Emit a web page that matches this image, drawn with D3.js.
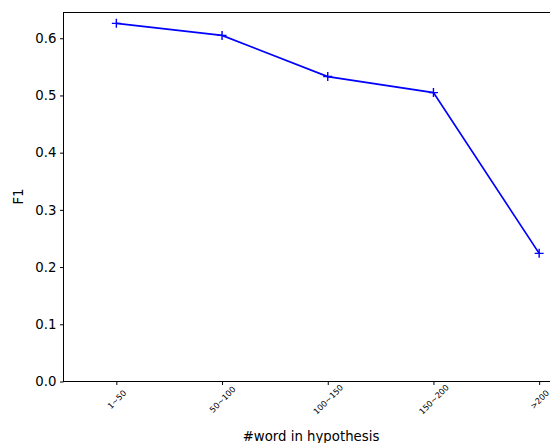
<!DOCTYPE html>
<html>
<head>
<meta charset="utf-8">
<script src="https://cdn.jsdelivr.net/npm/d3@7"></script>
<style>
  html, body { margin: 0; padding: 0; background: #fff; }
  svg { display: block; font-family: "DejaVu Sans", sans-serif; }
</style>
</head>
<body>
<svg id="chart" width="550" height="443"></svg>
<script>
// F1 score by hypothesis length bucket
const categories = ["1~50", "50~100", "100~150", "150~200", ">200"];
const f1Values = [0.626, 0.605, 0.533, 0.505, 0.224];
const yTicks = [0.0, 0.1, 0.2, 0.3, 0.4, 0.5, 0.6];

const svg = d3.select("#chart");
const margin = { left: 63.5, top: 12.5, bottom: 381.5 };
const plotRight = 592;

const x = d3.scaleLinear().domain([-0.5, 4.5]).range([margin.left, plotRight]);
const y = d3.scaleLinear().domain([0, 0.645]).range([margin.bottom, margin.top]);

// axes frame
svg.append("rect")
  .attr("x", margin.left).attr("y", margin.top)
  .attr("width", plotRight - margin.left).attr("height", margin.bottom - margin.top)
  .attr("fill", "none").attr("stroke", "#000").attr("stroke-width", 1);

// y axis
const yAxis = d3.axisLeft(y).tickValues(yTicks).tickFormat(d3.format(".1f")).tickSizeOuter(0).tickSize(3.5).tickPadding(3.5);
const gy = svg.append("g").attr("transform", `translate(${margin.left},0)`).call(yAxis);
gy.select(".domain").remove();
gy.selectAll("text").attr("font-size", 13.3).attr("fill", "#000").attr("font-family", "DejaVu Sans");
gy.selectAll("line").attr("stroke", "#000");

// x axis
const xAxis = d3.axisBottom(x).tickValues(d3.range(categories.length)).tickFormat(i => categories[i]).tickSizeOuter(0).tickSize(3.5);
const gx = svg.append("g").attr("transform", `translate(0,${margin.bottom})`).call(xAxis);
gx.select(".domain").remove();
gx.selectAll("line").attr("stroke", "#000");
gx.selectAll("text")
  .attr("font-size", 8.2)
  .attr("fill", "#000")
  .attr("font-family", "DejaVu Sans")
  .attr("text-anchor", "middle")
  .attr("y", 0)
  .attr("dy", "0.35em")
  .attr("transform", "translate(0,18) rotate(-45)");

// axis titles
svg.append("text")
  .attr("x", 311).attr("y", 441)
  .attr("text-anchor", "middle")
  .attr("font-size", 13.3)
  .text("#word in hypothesis");

svg.append("text")
  .attr("transform", "translate(23,196.5) rotate(-90)")
  .attr("text-anchor", "middle")
  .attr("font-size", 13.3)
  .text("F1");

// line
const line = d3.line().x((d, i) => x(i)).y(d => y(d));
svg.append("path")
  .datum(f1Values)
  .attr("d", line)
  .attr("fill", "none")
  .attr("stroke", "#0000ff")
  .attr("stroke-width", 1.7);

// plus markers
const m = 4.5;
const markers = svg.append("g");
f1Values.forEach((v, i) => {
  const cx = x(i), cy = y(v);
  markers.append("path")
    .attr("d", `M${cx - m},${cy}H${cx + m}M${cx},${cy - m}V${cy + m}`)
    .attr("stroke", "#0000ff")
    .attr("stroke-width", 1.4)
    .attr("fill", "none");
});
</script>
</body>
</html>
